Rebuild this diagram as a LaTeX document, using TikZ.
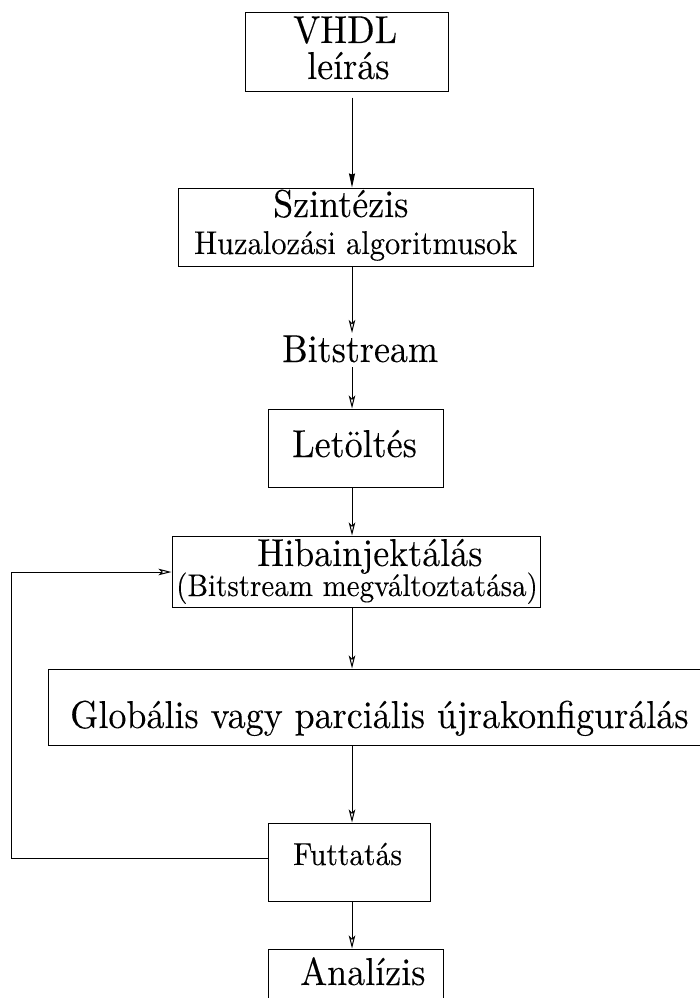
\documentclass[tikz,border=0pt]{standalone}
\usepackage{graphicx}
\usepackage{fontspec}
\setmainfont{lmroman10-regular.otf}[FakeBold=0.1]
\usetikzlibrary{arrows.meta}
% labels are set slightly taller than the font's natural height
\newcommand\tall[1]{\scalebox{1}[1.08]{#1}}
\begin{document}
\begin{tikzpicture}[x=1pt,y=-1pt,
  box/.style={draw,line width=1pt,inner sep=0pt},
  lbl/.style={inner sep=0pt,anchor=base west},
  big/.style={font=\fontsize{36}{36}\selectfont},
  mid/.style={font=\fontsize{30.5}{32}\selectfont},
  flow/.style={line width=1pt,-{Stealth[length=13pt,width=6.5pt,inset=3pt,open]}},
  flowfill/.style={line width=1pt,-{Stealth[length=14pt,width=6pt,inset=1pt]}}]
\useasboundingbox (0,0) rectangle (699,998);

% boxes
\node[box,minimum width=203pt,minimum height=78pt] (vhdl)   at (346.5,52) {};
\node[box,minimum width=355pt,minimum height=78pt] (szint)  at (355.5,227) {};
\node[box,minimum width=175pt,minimum height=78pt] (letolt) at (355.5,448) {};
\node[box,minimum width=368pt,minimum height=71pt] (hiba)   at (356,571.5) {};
\node[box,minimum width=672pt,minimum height=76pt] (glob)   at (384,707) {};
\node[box,minimum width=162pt,minimum height=78pt] (futt)   at (349,862) {};
\node[box,minimum width=175pt,minimum height=82pt] (anal)   at (355.5,990) {};

% labels, placed by their baselines
\node[lbl,big] (t1)  at (293,43)  {\tall{VHDL}};
\node[lbl,big] (t2)  at (307,79)  {\tall{leírás}};
\node[lbl,big] (t3)  at (273,217) {\tall{Szintézis}};
\node[lbl,mid] (t4)  at (194,254) {\tall{Huzalozási algoritmusok}};
\node[lbl,big] (bits) at (282,362) {\tall{Bitstream}};
\node[lbl,big] (t5)  at (292,457) {\tall{Letöltés}};
\node[lbl,big] (t6)  at (257,566) {\tall{Hibainjektálás}};
\node[lbl,font=\fontsize{29}{30}\selectfont] (t7) at (176,596) {\tall{(Bitstream megváltoztatása)}};
\node[lbl,big] (t8)  at (70,728)  {\tall{Globális vagy parciális újrakonfigurálás}};
\node[lbl,font=\fontsize{29.5}{30}\selectfont] (t9) at (293,865) {\tall{Futtatás}};
\node[lbl,big] (t10) at (300,985) {\tall{Analízis}};

% main flow line runs down x = 352
\coordinate (ax) at (352,0);
\coordinate (b1) at (352,333);
\coordinate (b2) at (352,367);
\draw[flowfill,shorten <=6pt] (vhdl.south -| ax) -- (szint.north -| ax);
\draw[flow] (szint.south -| ax) -- (b1);
\draw[flow] (b2) -- (letolt.north -| ax);
\draw[flow] (letolt.south -| ax) -- (hiba.north -| ax);
\draw[flow] (hiba.south -| ax) -- (glob.north -| ax);
\draw[flow] (glob.south -| ax) -- (futt.north -| ax);
\draw[flow] (futt.south -| ax) -- (anal.north -| ax);

% feedback loop back to fault injection
\coordinate (fb1) at (11,858);
\coordinate (fb2) at (11,572);
\draw[flow] (futt.west |- fb1) -- (fb1) -- (fb2) -- (hiba.west |- fb2);
\end{tikzpicture}
\end{document}
